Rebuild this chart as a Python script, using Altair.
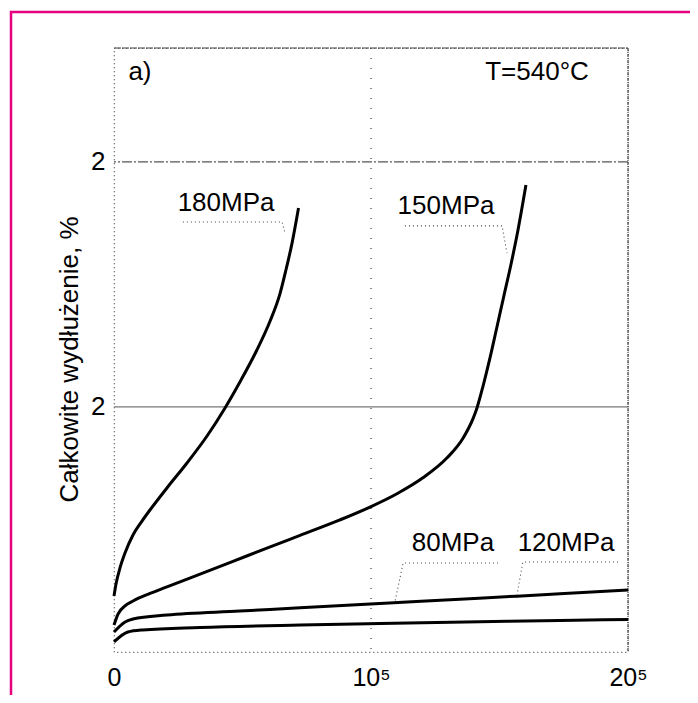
import altair as alt
import pandas as pd

# ---- values (time in thousands of hours, elongation in %) ----
t_180 = [0, 0.78, 2.33, 4.28, 7.39, 10.89, 14.0, 20.6, 28.4, 36.2, 43.2, 49.0, 55.6, 60.7,
         64.6, 66.9, 69.3, 71.8]
e_180 = [0.457, 0.555, 0.686, 0.808, 0.955, 1.069, 1.159, 1.339, 1.543, 1.763, 1.992, 2.204,
         2.465, 2.700, 2.925, 3.118, 3.339, 3.624]

t_150 = [0, 1.56, 4.28, 7.4, 14.0, 20.6, 33.5, 46.3, 59.5, 72.4, 87.9, 99.6, 110.1, 120.2,
         129.6, 135.8, 139.7, 141.2, 143.6, 146.3, 149.0, 151.7, 154.5, 157.2, 160.3]
e_150 = [0.220, 0.310, 0.376, 0.416, 0.478, 0.532, 0.636, 0.740, 0.848, 0.952, 1.078, 1.183,
         1.292, 1.422, 1.585, 1.745, 1.905, 1.990, 2.171, 2.400, 2.653, 2.906, 3.167, 3.445, 3.812]

t_120 = [0, 4.3, 7.4, 20.6, 49.0, 72.4, 103.5, 134.6, 156.8, 173.5, 200]
e_120 = [0.163, 0.245, 0.269, 0.302, 0.334, 0.361, 0.396, 0.431, 0.456, 0.475, 0.506]

t_80 = [0, 5.4, 11.3, 33.5, 72.4, 103.5, 142.4, 173.5, 200]
e_80 = [0.082, 0.163, 0.180, 0.200, 0.220, 0.232, 0.247, 0.258, 0.265]

series_names = ["180MPa", "150MPa", "120MPa", "80MPa"]

x_ticks = [0, 100000, 200000]
x_tick_labels = ["0", "10⁵", "20⁵"]
y_ticks = [2, 4]
y_tick_labels = ["2", "2"]

y_title = "Całkowite wydłużenie, %"

# annotations (label text, x in thousands, y)
ann_text = ["180MPa", "150MPa", "80MPa", "120MPa", "a)", "T=540°C"]
ann_t = [43.6, 129.2, 131.9, 175.9, 10.1, 164.6]
ann_e = [3.665, 3.641, 0.890, 0.890, 4.735, 4.735]

# leader lines (group, x in thousands, y)
lead_g = ["180", "180", "180", "150", "150", "150", "80", "80", "80", "120", "120", "120"]
lead_t = [26.8, 65.4, 66.5, 113.2, 151.0, 152.9, 149.4, 112.5, 109.3, 196.1, 159.1, 156.8]
lead_e = [3.51, 3.51, 3.42, 3.478, 3.478, 3.257, 0.727, 0.727, 0.408, 0.735, 0.735, 0.465]

# ---- build tables ----
rows = []
for name, ts, es in zip(series_names, [t_180, t_150, t_120, t_80], [e_180, e_150, e_120, e_80]):
    for t, e in zip(ts, es):
        rows.append({"t": t * 1000, "e": e, "s": name})
curves = pd.DataFrame(rows)

ann = pd.DataFrame({"t": [v * 1000 for v in ann_t], "e": ann_e, "label": ann_text})
lead = pd.DataFrame({"t": [v * 1000 for v in lead_t], "e": lead_e, "g": lead_g,
                     "o": list(range(len(lead_g)))})

FONT = "Liberation Sans"

label_expr_x = " : ".join(
    [f"datum.value == {v} ? '{l}'" for v, l in zip(x_ticks[:-1], x_tick_labels[:-1])]
) + f" : '{x_tick_labels[-1]}'"
label_expr_y = " : ".join(
    [f"datum.value == {v} ? '{l}'" for v, l in zip(y_ticks[:-1], y_tick_labels[:-1])]
) + f" : '{y_tick_labels[-1]}'"

xscale = alt.Scale(domain=[0, 200000], nice=False, zero=False)
yscale = alt.Scale(domain=[0, 4.93], nice=False, zero=False)

xaxis = alt.Axis(values=x_ticks, labelExpr=label_expr_x, title="", ticks=False, domain=False,
                 grid=False, labelFontSize=25, labelFont=FONT, labelColor="black",
                 labelPadding=13, labelFlush=False, labelOverlap=False)
yaxis = alt.Axis(values=y_ticks, labelExpr=label_expr_y, title=y_title, titleFontSize=26,
                 titleFontWeight="normal", titleFont=FONT, titleColor="black",
                 titleX=-37, titleY=311, titleBaseline="alphabetic", titleAngle=270,
                 ticks=False, domain=False, grid=False, labelFontSize=26, labelFont=FONT,
                 labelColor="black", labelPadding=9, labelOverlap=False)

X = alt.X("t:Q", scale=xscale, axis=xaxis)
Y = alt.Y("e:Q", scale=yscale, axis=yaxis)

grid4 = alt.Chart(pd.DataFrame({"e": [4]})).mark_rule(
    color="#555", strokeWidth=1.3, strokeDash=[10, 2, 2, 2]).encode(y=Y)
grid2 = alt.Chart(pd.DataFrame({"e": [2]})).mark_rule(
    color="#777", strokeWidth=1.3).encode(y=Y)
vgrid = alt.Chart(pd.DataFrame({"t": [100000]})).mark_rule(
    color="#444", strokeWidth=1.2, strokeDash=[1, 9]).encode(x=X)

top_frame = alt.Chart(alt.Data(values=[{}])).mark_rule(
    color="#444", strokeWidth=1.2, strokeDash=[7, 1]).encode(
    x=alt.value(0), x2=alt.value(514), y=alt.value(0))
right_frame = alt.Chart(alt.Data(values=[{}])).mark_rule(
    color="#444", strokeWidth=1.2, strokeDash=[3, 1, 1, 1]).encode(
    x=alt.value(514), y=alt.value(0), y2=alt.value(604))

lines = alt.Chart(curves).mark_line(color="black", strokeWidth=3, interpolate="monotone").encode(
    x=X, y=Y, detail="s:N")

leaders = alt.Chart(lead).mark_line(color="#444", strokeWidth=1.1, strokeDash=[1, 3]).encode(
    x=X, y=Y, detail="g:N", order="o:Q")

texts = alt.Chart(ann).mark_text(font=FONT, fontSize=26, color="black", align="center",
                                 baseline="middle").encode(x=X, y=Y, text="label:N")

border = alt.Chart(alt.Data(values=[{}])).mark_rect(
    filled=False, stroke="#E5007D", strokeWidth=2.5).encode(
    x=alt.value(-103), x2=alt.value(578), y=alt.value(-36), y2=alt.value(670))

chart = alt.layer(grid4, grid2, vgrid, top_frame, right_frame, lines, leaders, texts, border).properties(
    width=514, height=604,
    autosize=alt.AutoSizeParams(type="none"),
    padding={"left": 106, "top": 40, "right": 62, "bottom": 43},
    background="white",
).configure_view(stroke="#444", strokeDash=[1, 3], strokeWidth=1.2)

chart.save("out.html", embed_options={"renderer": "svg", "actions": False})
